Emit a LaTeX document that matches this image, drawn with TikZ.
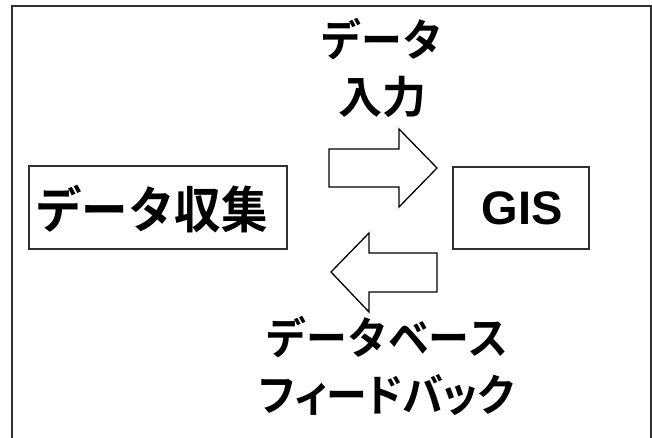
\documentclass[tikz,border=0pt]{standalone}
\usepackage{fontspec}
\setmainfont{Liberation Sans}
\newfontfamily\jp{Noto Sans CJK JP}[BoldFont={Noto Sans CJK JP Bold},BoldFeatures={FakeStretch=0.93}]
\newfontfamily\jpk{Noto Sans CJK JP}[BoldFont={Noto Sans CJK JP Bold}]
\newfontfamily\jpp{Noto Sans CJK JP}[BoldFont={Noto Sans CJK JP Bold},BoldFeatures={FakeStretch=0.93},RawFeature=+palt]
\definecolor{framegray}{HTML}{303030}
\tikzset{
  framebox/.style={draw=framegray,line width=1.4pt},
  boxnode/.style={draw=framegray,line width=1.3pt,inner sep=0pt},
  bigarrow/.style={draw=black,line width=1.3pt,fill=white,line join=miter},
  jplabel/.style={font=\jp\bfseries\fontsize{44}{57}\selectfont,align=center,inner sep=0pt},
}
\begin{document}
\begin{tikzpicture}[x=1pt,y=-1pt]
\useasboundingbox (0,0) rectangle (652,438);
\fill[white] (0,0) rectangle (652,438);
% outer frame (bottom edge lies outside the picture)
\coordinate (fbl) at (12,440);
\coordinate (ftl) at (12,6);
\coordinate (ftr) at (651,6);
\coordinate (fbr) at (651,440);
\draw[framebox] (fbl) -- (ftl) -- (ftr) -- (fbr);
% boxes
\node[boxnode,minimum width=258pt,minimum height=83pt] (collect) at (158,207.5) {};
\node[font=\jp\bfseries\fontsize{50}{50}\selectfont,inner sep=0pt] (collecttxt) at (151.5,209.5) {データ収集};
\node[boxnode,minimum width=136pt,minimum height=82pt] (gis) at (521,208) {};
\node[font=\bfseries\fontsize{47}{47}\selectfont,inner sep=0pt] (gistxt) at (522,208.5) {GIS};
% arrows
\draw[bigarrow] (329,149) -- (399,149) -- (399,129) -- (437,168) -- (399,207) -- (399,187) -- (329,187) -- cycle;
\draw[bigarrow] (437,253) -- (369,253) -- (369,233) -- (331,272) -- (369,312) -- (369,292) -- (437,292) -- cycle;
% labels
\node[jplabel] (inlbl) at (382,68) {データ\\{\jpk 入力}};
\node[jplabel] (fblbl) at (387,366) {データベース\\{\jpp フィードバック}};
\end{tikzpicture}
\end{document}
